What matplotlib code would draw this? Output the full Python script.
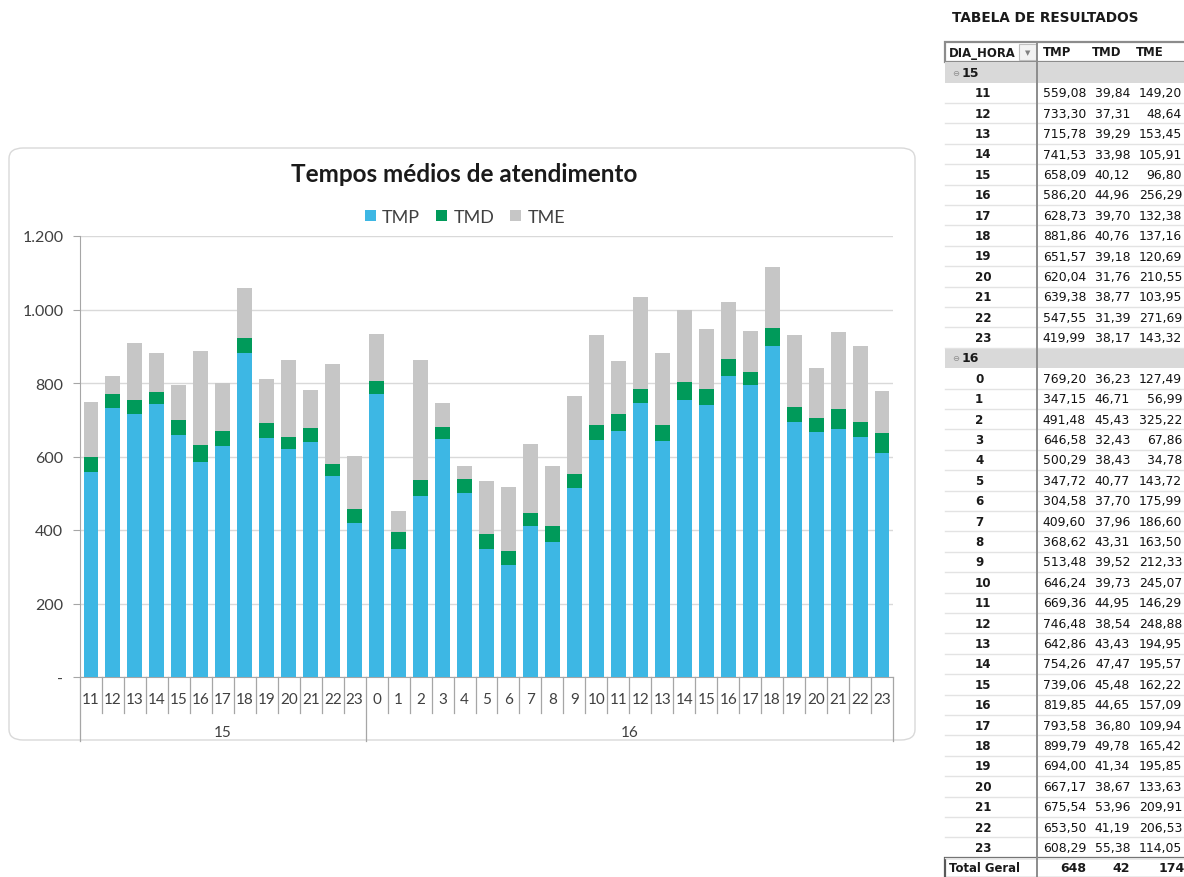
import matplotlib
matplotlib.use("Agg")
import matplotlib.pyplot as plt
from matplotlib.patches import Rectangle, FancyBboxPatch
from matplotlib.lines import Line2D
from matplotlib.transforms import blended_transform_factory

# ---------------- data ----------------
days = ["15", "16"]
hours_15 = [11, 12, 13, 14, 15, 16, 17, 18, 19, 20, 21, 22, 23]
hours_16 = list(range(0, 24))
tmp_15 = [559.08, 733.30, 715.78, 741.53, 658.09, 586.20, 628.73, 881.86, 651.57, 620.04, 639.38, 547.55, 419.99]
tmd_15 = [39.84, 37.31, 39.29, 33.98, 40.12, 44.96, 39.70, 40.76, 39.18, 31.76, 38.77, 31.39, 38.17]
tme_15 = [149.20, 48.64, 153.45, 105.91, 96.80, 256.29, 132.38, 137.16, 120.69, 210.55, 103.95, 271.69, 143.32]
tmp_16 = [769.20, 347.15, 491.48, 646.58, 500.29, 347.72, 304.58, 409.60, 368.62, 513.48, 646.24, 669.36,
          746.48, 642.86, 754.26, 739.06, 819.85, 793.58, 899.79, 694.00, 667.17, 675.54, 653.50, 608.29]
tmd_16 = [36.23, 46.71, 45.43, 32.43, 38.43, 40.77, 37.70, 37.96, 43.31, 39.52, 39.73, 44.95,
          38.54, 43.43, 47.47, 45.48, 44.65, 36.80, 49.78, 41.34, 38.67, 53.96, 41.19, 55.38]
tme_16 = [127.49, 56.99, 325.22, 67.86, 34.78, 143.72, 175.99, 186.60, 163.50, 212.33, 245.07, 146.29,
          248.88, 194.95, 195.57, 162.22, 157.09, 109.94, 165.42, 195.85, 133.63, 209.91, 206.53, 114.05]
total_geral = ["648", "42", "174"]
series_names = ["TMP", "TMD", "TME"]
y_ticks = [0, 200, 400, 600, 800, 1000, 1200]
y_tick_labels = ["-", "200", "400", "600", "800", "1.000", "1.200"]

colors = ["#3DB7E4", "#009A5A", "#C6C6C6"]

W, H = 1184, 878
fig = plt.figure(figsize=(W / 100, H / 100), dpi=100)
fig.patch.set_facecolor("white")

def fx(x):
    return x / W

def fy(y):
    return 1 - y / H

CHART_FONT = ["Lato", "DejaVu Sans"]

# chart frame
frame = FancyBboxPatch((fx(9), fy(741)), fx(906), (741 - 149) / H,
                       boxstyle="round,pad=0,rounding_size=0.012",
                       transform=fig.transFigure, facecolor="white",
                       edgecolor="#D9D9D9", linewidth=1.0, zorder=0)
fig.add_artist(frame)

# axes
ax = fig.add_axes([fx(80), fy(678), 813 / W, 441 / H])
hours = hours_15 + hours_16
tmp = tmp_15 + tmp_16
tmd = tmd_15 + tmd_16
tme = tme_15 + tme_16
n = len(hours)
xs = list(range(n))
bw = 0.68
ax.bar(xs, tmp, bw, color=colors[0], label=series_names[0], zorder=3)
bot2 = tmp
ax.bar(xs, tmd, bw, bottom=bot2, color=colors[1], label=series_names[1], zorder=3)
bot3 = [a + b for a, b in zip(tmp, tmd)]
ax.bar(xs, tme, bw, bottom=bot3, color=colors[2], label=series_names[2], zorder=3)

ax.set_xlim(-0.5, n - 0.5)
ax.set_ylim(0, 1200)
ax.set_yticks(y_ticks)
ax.set_yticklabels(y_tick_labels, fontsize=11.5, color="#404040", family=CHART_FONT)
ax.tick_params(axis="y", length=5, color="#A6A6A6", pad=7)
ax.set_xticks([])
ax.grid(axis="y", color="#D9D9D9", linewidth=1.0, zorder=0)
for s in ["top", "right"]:
    ax.spines[s].set_visible(False)
ax.spines["left"].set_color("#A6A6A6")
ax.spines["bottom"].set_color("#A6A6A6")

# category axis
trans = blended_transform_factory(ax.transData, ax.transAxes)
def ay(ypix):
    return (678 - ypix) / 441

for i in range(n + 1):
    xb = i - 0.5
    if i in (0, len(hours_15), n):
        y1 = ay(742)
    else:
        y1 = ay(714)
    ax.add_line(Line2D([xb, xb], [0, y1], transform=trans, color="#A6A6A6",
                       linewidth=0.9, clip_on=False))
for i, h in enumerate(hours):
    ax.text(i, ay(700), str(h), transform=trans, ha="center", va="center",
            fontsize=11, color="#404040", family=CHART_FONT)
ax.text((len(hours_15) - 1) / 2, ay(733), days[0], transform=trans, ha="center",
        va="center", fontsize=11, color="#404040", family=CHART_FONT)
ax.text(len(hours_15) + (len(hours_16) - 1) / 2, ay(733), days[1], transform=trans,
        ha="center", va="center", fontsize=11, color="#404040", family=CHART_FONT)

# title & legend
fig.text(fx(464), fy(175), "Tempos médios de atendimento", ha="center", va="center",
         fontsize=17.5, fontweight="bold", color="#1a1a1a", family=CHART_FONT)
leg = fig.legend(loc="center", bbox_to_anchor=(fx(465), fy(218)), ncol=3, frameon=False,
                 prop={"family": CHART_FONT, "size": 13}, handlelength=0.6,
                 handleheight=0.6, handletextpad=0.35, columnspacing=0.9)
for t in leg.get_texts():
    t.set_color("#404040")

# ---------------- table ----------------
TF = ["DejaVu Sans"]
fig.text(fx(952), fy(18), "TABELA DE RESULTADOS", ha="left", va="center", fontsize=9.8,
         fontweight="bold", color="#1a1a1a", family=TF)

row_h = 20.4
y0 = 53
xl, xm, xr = 945, 1037, 1186
x_tmp, x_tmd, x_tme = 1086, 1130, 1182

def hline(y, x0, x1, color, lw):
    fig.add_artist(Line2D([fx(x0), fx(x1)], [fy(y), fy(y)], transform=fig.transFigure,
                          color=color, linewidth=lw))

def vline(x, ya, yb, color, lw):
    fig.add_artist(Line2D([fx(x), fx(x)], [fy(ya), fy(yb)], transform=fig.transFigure,
                          color=color, linewidth=lw))

def rowtexts(yc, label, vals, bold_label=True, bold_vals=False, lx=975):
    fig.text(fx(lx), fy(yc), label, ha="left", va="center", fontsize=8.6,
             fontweight="bold" if bold_label else "normal", color="#1a1a1a", family=TF)
    for xv, v in zip((x_tmp, x_tmd, x_tme), vals):
        fig.text(fx(xv), fy(yc), v, ha="right", va="center", fontsize=8.9,
                 fontweight="bold" if bold_vals else "normal", color="#111111", family=TF)

def fmt(v):
    return f"{v:.2f}".replace(".", ",")

# header
hy = y0
fig.add_artist(Rectangle((fx(xl), fy(hy + row_h / 2)), fx(xr - xl), row_h / H,
                         transform=fig.transFigure, facecolor="white",
                         edgecolor="#8C8C8C", linewidth=1.6))
fig.add_artist(Rectangle((fx(1019), fy(hy + 8)), fx(17), 16 / H, transform=fig.transFigure,
                         facecolor="#F2F2F2", edgecolor="#BFBFBF", linewidth=0.8))
fig.text(fx(1027.5), fy(hy), "▼", ha="center", va="center", fontsize=5, color="#808080", family=TF)
fig.text(fx(949), fy(hy), "DIA_HORA", ha="left", va="center", fontsize=8.4,
         fontweight="bold", color="#1a1a1a", family=TF)
for xh, name in zip((1043, 1092, 1136), series_names):
    fig.text(fx(xh), fy(hy), name, ha="left", va="center", fontsize=8.4,
             fontweight="bold", color="#1a1a1a", family=TF)

r = 1
groups = [(days[0], hours_15, tmp_15, tmd_15, tme_15), (days[1], hours_16, tmp_16, tmd_16, tme_16)]
for day, hrs, a, b, c in groups:
    yc = y0 + r * row_h
    fig.add_artist(Rectangle((fx(xl), fy(yc + row_h / 2)), fx(xr - xl), row_h / H,
                             transform=fig.transFigure, facecolor="#D9D9D9",
                             edgecolor="none"))
    fig.text(fx(956), fy(yc), "⊖", ha="center", va="center", fontsize=6, color="#8C8C8C", family=TF)
    fig.text(fx(962), fy(yc), day, ha="left", va="center", fontsize=9,
             fontweight="bold", color="#1a1a1a", family=TF)
    r += 1
    for h, va_, vb_, vc_ in zip(hrs, a, b, c):
        yc = y0 + r * row_h
        rowtexts(yc, str(h), [fmt(va_), fmt(vb_), fmt(vc_)])
        hline(yc + row_h / 2, xl, xr, "#E3E3E3", 1.0)
        r += 1

# total row
yc = y0 + r * row_h
fig.add_artist(Rectangle((fx(xl), fy(yc + row_h / 2)), fx(xr - xl), row_h / H,
                         transform=fig.transFigure, facecolor="white",
                         edgecolor="#595959", linewidth=1.6))
fig.text(fx(949), fy(yc), "Total Geral", ha="left", va="center", fontsize=8.4,
         fontweight="bold", color="#1a1a1a", family=TF)
for xv, v in zip((x_tmp, x_tmd, x_tme + 3), total_geral):
    fig.text(fx(xv), fy(yc), v, ha="right", va="center", fontsize=9,
             fontweight="bold", color="#1a1a1a", family=TF)

vline(xm, y0 - row_h / 2, H, "#8C8C8C", 1.4)

fig.savefig("out.png", dpi=100, facecolor="white")
